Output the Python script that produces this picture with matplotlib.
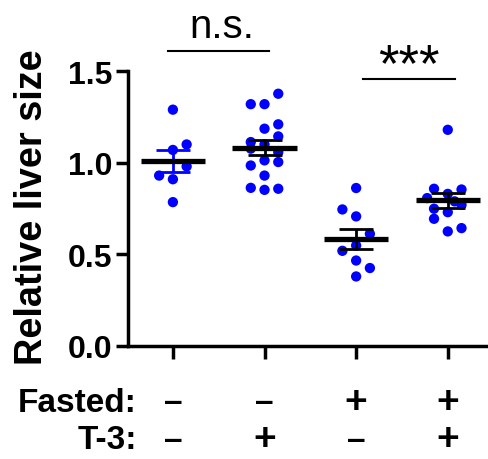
import matplotlib
matplotlib.use("Agg")
import matplotlib.pyplot as plt
import matplotlib.transforms as mtransforms
import numpy as np

plt.rcParams["font.family"] = ["Liberation Sans", "DejaVu Sans"]

# values
ctrl = [1.29, 1.10, 1.07, 0.98, 0.93, 0.91, 0.785]
ctrl_dx = [0, 1, 0, 1, -1, 0, 0]
t3 = [1.377, 1.32, 1.32, 1.186, 1.21, 1.144, 1.113, 1.077, 1.10, 1.058,
      1.013, 1.004, 0.985, 0.93, 0.863, 0.852, 0.858]
t3_dx = [1, -1, 0, 0, 1, 1, -1, -1, 0, 1, 0, 1, -1, 0, -1, 0, 1]
fasted = [0.862, 0.745, 0.707, 0.612, 0.548, 0.519, 0.466, 0.425, 0.379]
fasted_dx = [0, -1, 0, 1, 0, -1, 0, 1, 0]
fasted_t3 = [1.18, 0.858, 0.854, 0.83, 0.807, 0.789, 0.77, 0.749, 0.73,
             0.694, 0.643, 0.625]
fasted_t3_dx = [0, -1, 1, 0, -1.5, 0.5, 1, -1, 0, -1, 1, 0]

groups = [ctrl, t3, fasted, fasted_t3]
offsets = [ctrl_dx, t3_dx, fasted_dx, fasted_t3_dx]
fasted_signs = ["–", "–", "+", "+"]
t3_signs = ["–", "+", "–", "+"]
bar_colors = ["#0000ff", "black", "black", "black"]

fig = plt.figure(figsize=(4.89, 4.6), dpi=100)
ax = fig.add_axes([0.261, 0.246, 0.739, 0.597])

for i, (vals, dx) in enumerate(zip(groups, offsets)):
    x0 = i + 1
    vals = np.array(vals)
    xs = x0 + 0.15 * np.array(dx)
    ax.scatter(xs, vals, s=55, color="#0000ff", edgecolors="none",
               zorder=2, clip_on=False)
    m = vals.mean()
    sem = vals.std(ddof=1) / np.sqrt(len(vals))
    ax.errorbar([x0], [m], yerr=[sem], fmt="none", ecolor=bar_colors[i],
                elinewidth=2, capsize=12, capthick=2, zorder=3)
    ax.hlines(m, x0 - 0.35, x0 + 0.35, color="black", lw=3.8, zorder=4)

ax.set_xlim(0.506, 4.45)
ax.set_ylim(0, 1.5)
ax.set_yticks([0, 0.5, 1.0, 1.5])
ax.set_yticklabels(["0.0", "0.5", "1.0", "1.5"])
ax.set_xticks([1, 2, 3, 4])
ax.set_xticklabels([])
ax.tick_params(axis="both", length=9, width=2.5, pad=2, labelsize=23)
for lab in ax.get_yticklabels():
    lab.set_fontweight("bold")
for side in ["top", "right"]:
    ax.spines[side].set_visible(False)
for side in ["left", "bottom"]:
    ax.spines[side].set_linewidth(2.5)

ax.set_ylabel("Relative liver size", fontsize=27.3, fontweight="bold")
ax.yaxis.set_label_coords(-0.215, 0.51)

# significance brackets
ax.plot([0.95, 2.05], [1.612, 1.612], color="black", lw=1.5, clip_on=False)
ax.text(1.53, 1.645, "n.s.", ha="center", va="bottom", fontsize=29)
ax.plot([3.08, 4.08], [1.455, 1.455], color="black", lw=1.5, clip_on=False)
ax.text(3.58, 1.39, "***", ha="center", va="bottom", fontsize=38)

# condition table under the axis
trans = mtransforms.blended_transform_factory(ax.transData, ax.transAxes)
for i in range(4):
    for sign, yy in [(fasted_signs[i], -0.203), (t3_signs[i], -0.34)]:
        size = 28 if sign == "+" else 24
        ax.text(i + 1, yy, sign, transform=trans, ha="center",
                va="center", fontsize=size, fontweight="bold")
fig.text(137 / 489, 1 - 403 / 460, "Fasted:", ha="right", va="center",
         fontsize=24, fontweight="bold")
fig.text(137 / 489, 1 - 441 / 460, "T-3:", ha="right", va="center",
         fontsize=24, fontweight="bold")

fig.savefig("out.png", dpi=100)
